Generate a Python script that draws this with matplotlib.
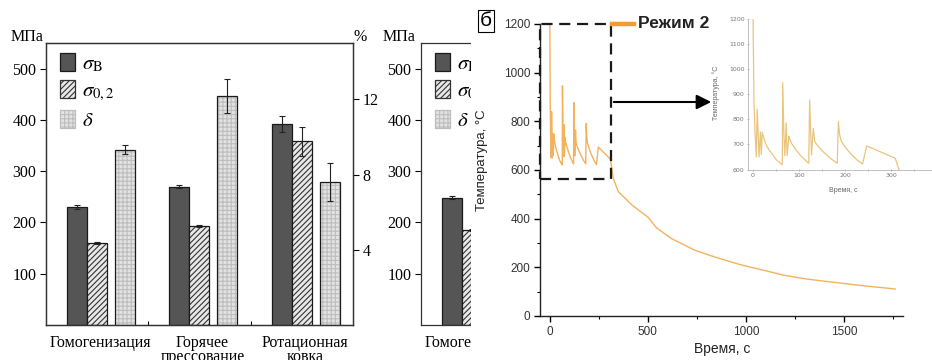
import matplotlib
matplotlib.use("Agg")
import matplotlib.pyplot as plt
from matplotlib.patches import Patch, Rectangle, FancyArrowPatch
from matplotlib.lines import Line2D
import numpy as np

plt.rcParams["mathtext.fontset"] = "stix"
plt.rcParams["hatch.linewidth"] = 0.8

# ---------------- data ----------------
routes = ["Гомогенизация", "Горячее\nпрессование", "Ротационная\nковка"]
uts = [230, 270, 392]          # sigma_B, MPa
uts_err = [4, 3, 15]
yield_str = [160, 193, 358]    # sigma_0.2, MPa
yield_err = [2, 2, 28]
elong = [9.33, 12.2, 7.6]      # delta, %
elong_err = [0.25, 0.9, 1.0]

routes_b = ["Гомогенизация"]
uts_b = [248]
uts_b_err = [3]
yield_b = [185]
yield_b_err = [2]

cycle_time = [0, 2, 4, 7, 9, 13, 16, 18, 20, 25, 30, 40, 50, 62,
              63.5, 64.5, 67, 69, 72, 74, 78, 80, 85, 95, 105, 115, 121,
              123, 127, 131, 134, 138, 150, 160, 170, 183,
              185.5, 188, 192, 200, 211, 225, 238,
              247, 309, 316]
cycle_temp = [1200, 870, 760, 650, 840, 650, 750, 660, 748, 715, 692, 665, 640, 621,
              621, 946, 740, 655, 786, 656, 733, 720, 700, 675, 652, 635, 625,
              877, 658, 764, 712, 700, 675, 658, 642, 625,
              791, 740, 712, 690, 665, 640, 622,
              694, 645, 606]
cool_time = [323, 349, 420, 502, 544, 620, 740, 850, 975, 1100, 1190,
             1300, 1400, 1495, 1600, 1700, 1760]
cool_temp = [566, 511, 455, 405, 362, 318, 270, 240, 210, 186, 168,
             153, 143, 134, 124, 116, 111]

time_s = np.array(cycle_time + cool_time)
temp_c = np.array(cycle_temp + cool_temp)

# ---------------- figure ----------------
W, H = 932, 360
fig = plt.figure(figsize=(W / 100, H / 100), dpi=100)


def box(x0, y0, x1, y1):
    return [x0 / W, 1 - y1 / H, (x1 - x0) / W, (y1 - y0) / H]


def px(x, y):
    return (x / W, 1 - y / H)


SERIF = "Liberation Serif"
SANS = "Liberation Sans"
BW = 0.195
DARK = "#555555"


def bar_panel(ax, labels, s_b, s_b_err, s_02, s_02_err, d=None, d_err=None):
    n = len(labels)
    x = np.arange(n)
    ax.bar(x + 0.303, s_b, BW, color=DARK, edgecolor="#1a1a1a", lw=0.9, zorder=2)
    ax.errorbar(x + 0.303, s_b, yerr=s_b_err, fmt="none", ecolor="#222",
                elinewidth=0.8, capsize=2, capthick=0.8, zorder=3)
    ax.bar(x + 0.498, s_02, BW, color="#e8e8e8", edgecolor="#333333",
           hatch="//////", lw=0, zorder=2)
    ax.bar(x + 0.498, s_02, BW, fill=False, edgecolor="#1a1a1a", lw=0.9, zorder=2)
    ax.errorbar(x + 0.498, s_02, yerr=s_02_err, fmt="none", ecolor="#222",
                elinewidth=0.8, capsize=2, capthick=0.8, zorder=3)
    ax.set_ylim(0, 550)
    ax.set_xlim(0, 3)
    ax.set_yticks([100, 200, 300, 400, 500])
    ax.set_xticks([1, 2])
    ax.tick_params(axis="x", direction="in", length=3, labelbottom=False)
    ax.tick_params(axis="y", direction="out", length=4, labelsize=11.5, pad=3)
    for lab in ax.get_yticklabels():
        lab.set_fontfamily(SERIF)
    for s in ax.spines.values():
        s.set_linewidth(0.9)
        s.set_color("#333333")
    for i, lab in enumerate(labels):
        ax.text(i + 0.53, -0.035, lab, transform=ax.get_xaxis_transform(),
                ha="center", va="top", fontsize=11.5, family=SERIF,
                linespacing=0.85, clip_on=False)
    handles = [
        Patch(facecolor=DARK, edgecolor="#1a1a1a", lw=0.9),
        Patch(facecolor="#e8e8e8", edgecolor="#333333", hatch="//////", lw=0.9),
        Patch(facecolor="#e2e2e2", edgecolor="#bdbdbd", hatch="++++", lw=0.9),
    ]
    ax.legend(handles, [r"$\sigma_\mathrm{B}$", r"$\sigma_{0,2}$", r"$\delta$"],
              loc="upper left", bbox_to_anchor=(0.045, 0.965), frameon=False,
              fontsize=15, handlelength=0.75, handleheight=0.95,
              handletextpad=0.3, labelspacing=0.32, borderpad=0,
              borderaxespad=0)
    if d is not None:
        ax2 = ax.twinx()
        ax2.bar(x + 0.772, d, BW, color="#e2e2e2", edgecolor="#bdbdbd",
                hatch="++++", lw=0, zorder=2)
        ax2.bar(x + 0.772, d, BW, fill=False, edgecolor="#1a1a1a", lw=0.9, zorder=2)
        ax2.errorbar(x + 0.772, d, yerr=d_err, fmt="none", ecolor="#222",
                     elinewidth=0.8, capsize=2, capthick=0.8, zorder=3)
        ax2.set_ylim(0, 15)
        ax2.set_yticks([4, 8, 12])
        ax2.tick_params(axis="y", direction="out", length=4, labelsize=11.5, pad=3)
        for lab in ax2.get_yticklabels():
            lab.set_fontfamily(SERIF)
        for s in ax2.spines.values():
            s.set_linewidth(0.9)
            s.set_color("#333333")
        ax2.set_zorder(ax.get_zorder())


# left bar chart (all three processing routes)
ax_a = fig.add_axes(box(46, 43, 353, 325))
ax_a.set_zorder(1)
bar_panel(ax_a, routes, uts, uts_err, yield_str, yield_err, elong, elong_err)
fig.text(*px(27, 37), "МПа", ha="center", va="center", fontsize=11.5, family=SERIF)
fig.text(*px(360, 37), "%", ha="center", va="center", fontsize=11.5, family=SERIF)

# second bar chart, partly hidden behind the temperature plot
ax_b = fig.add_axes(box(421, 43, 728, 325))
ax_b.set_zorder(1)
bar_panel(ax_b, routes_b, uts_b, uts_b_err, yield_b, yield_b_err)
fig.text(*px(399, 37), "МПа", ha="center", va="center", fontsize=11.5, family=SERIF)

cover = Rectangle((471 / W, 0), 1 - 471 / W, 1, transform=fig.transFigure,
                  facecolor="white", edgecolor="none", zorder=1.5)
fig.add_artist(cover)

# ---------------- temperature plot ----------------
LINE = "#f2b25e"
ax_t = fig.add_axes(box(540, 24, 903, 316))
ax_t.set_zorder(2)
ax_t.plot(time_s, temp_c, color=LINE, lw=1.0, zorder=2)
ax_t.set_xlim(-50, 1800)
ax_t.set_ylim(0, 1200)
ax_t.set_xticks([0, 500, 1000, 1500])
ax_t.set_xticks([250, 750, 1250, 1750], minor=True)
ax_t.set_yticks([0, 200, 400, 600, 800, 1000, 1200])
ax_t.set_yticks(np.arange(100, 1200, 200), minor=True)
ax_t.spines["top"].set_visible(False)
ax_t.spines["right"].set_visible(False)
for s in ("left", "bottom"):
    ax_t.spines[s].set_linewidth(1.0)
    ax_t.spines[s].set_color("#222222")
ax_t.tick_params(which="major", direction="out", length=4, width=1.0,
                 labelsize=8.5, labelcolor="#333333", pad=3)
ax_t.tick_params(which="minor", direction="out", length=2.5, width=0.8)
for lab in ax_t.get_xticklabels() + ax_t.get_yticklabels():
    lab.set_fontfamily(SANS)
ax_t.patch.set_alpha(0)

zoom_box = Rectangle((-50, 563), 360, 637, fill=False, edgecolor="#1a1a1a",
                     lw=1.6, ls=(0, (5, 3)), clip_on=False, zorder=3)
ax_t.add_patch(zoom_box)

fig.text(*px(482, 160), "Температура, °C", rotation=90, ha="center",
         va="center", fontsize=9.5, family=SANS, color="#222222")
fig.text(*px(722, 349), "Время, с", ha="center", va="center",
         fontsize=10, family=SANS, color="#222222")

fig.text(*px(486, 21), "б", ha="center", va="center", fontsize=15, family=SANS,
         bbox=dict(boxstyle="square,pad=0.08", fc="white", ec="black", lw=0.8),
         zorder=5)

fig.add_artist(Line2D([612 / W, 634 / W], [1 - 24 / H, 1 - 24 / H],
                      color="#f39a32", lw=3.2, zorder=5))
fig.text(*px(638, 23), "Режим 2", ha="left", va="center", fontsize=12.5,
         family=SANS, weight="bold", color="#222222", zorder=5)

arrow = FancyArrowPatch(px(611, 102), px(714, 102), transform=fig.transFigure,
                        arrowstyle="-|>", mutation_scale=22, lw=1.5,
                        color="black", zorder=5)
fig.add_artist(arrow)

# ---------------- inset ----------------
INSET = "#e9c57e"
ax_i = fig.add_axes(box(748, 19, 932, 169.5))
ax_i.set_zorder(4)
ax_i.plot(time_s, temp_c, color=INSET, lw=0.9)
ax_i.set_xlim(-11, 389)
ax_i.set_ylim(600, 1200)
ax_i.set_xticks([0, 100, 200, 300])
ax_i.set_xticks([50, 150, 250, 350], minor=True)
ax_i.set_yticks(np.arange(600, 1201, 100))
ax_i.spines["top"].set_visible(False)
ax_i.spines["right"].set_visible(False)
for s in ("left", "bottom"):
    ax_i.spines[s].set_linewidth(0.6)
    ax_i.spines[s].set_color("#b5b5b5")
ax_i.tick_params(which="both", direction="inout", length=2, width=0.5,
                 color="#999999", labelsize=4.5, labelcolor="#777777", pad=1.5)
ax_i.patch.set_alpha(0)
fig.text(*px(716, 93), "Температура, °C", rotation=90, ha="center",
         va="center", fontsize=5, family=SANS, color="#666666")
fig.text(*px(843, 190), "Время, с", ha="center", va="center",
         fontsize=5, family=SANS, color="#666666")

fig.savefig("out.png", dpi=100)
